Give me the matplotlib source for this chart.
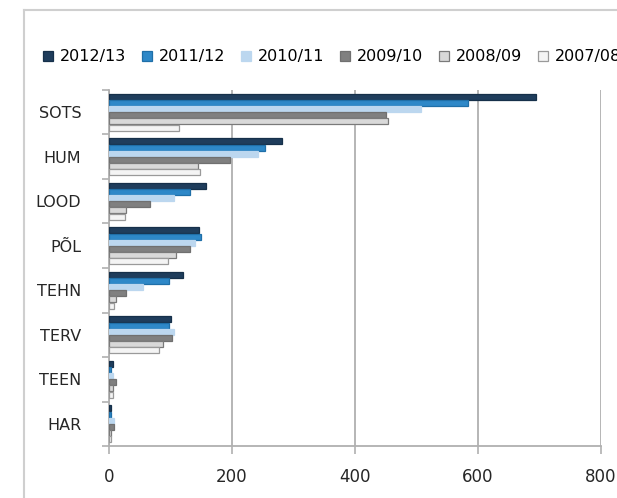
"""Horizontal grouped bar chart: counts per faculty, six academic years."""

from __future__ import annotations

import matplotlib

matplotlib.use("Agg")
import matplotlib.pyplot as plt
import numpy as np
from matplotlib.lines import Line2D

# categories, top to bottom
CATEGORIES = ["SOTS", "HUM", "LOOD", "PÕL", "TEHN", "TERV", "TEEN", "HAR"]
YEARS = ["2012/13", "2011/12", "2010/11", "2009/10", "2008/09", "2007/08"]

Y2012 = [695, 282, 158, 146, 121, 100, 7, 4]
Y2011 = [583, 254, 132, 150, 98, 98, 4, 4]
Y2010 = [508, 243, 105, 140, 56, 106, 6, 8]
Y2009 = [450, 196, 66, 131, 28, 103, 11, 8]
Y2008 = [454, 144, 27, 109, 12, 87, 7, 3]
Y2007 = [114, 148, 26, 96, 8, 82, 6, 3]

XTICKS = [0, 200, 400, 600, 800]

FILL = ["#1f3d5c", "#2e88c8", "#bcd7ef", "#808080", "#d9d9d9", "#f4f4f4"]
EDGE = ["#16304a", "#1f6fa8", "#bcd7ef", "#707070", "#7a7a7a", "#9a9a9a"]
GRID = "#b0b0b0"
FG = "#262626"
FRAME = "#cfcfcf"


def main() -> int:
    plt.rcParams["font.family"] = ["DejaVu Sans"]
    fig = plt.figure(figsize=(6.17, 4.98), dpi=100)
    fig.patch.set_facecolor("white")

    # outer chart frame (only left/top edges visible in the crop)
    fig.add_artist(Line2D([24 / 617, 24 / 617], [0, 1 - 10 / 498], color=FRAME, lw=1.5))
    fig.add_artist(Line2D([24 / 617, 1.01], [1 - 10 / 498, 1 - 10 / 498], color=FRAME, lw=1.5))

    ax = fig.add_axes([109 / 617, 1 - 446 / 498, (601 - 109) / 617, (446 - 90) / 498])

    series = [Y2012, Y2011, Y2010, Y2009, Y2008, Y2007]
    n = len(series)
    bar_h = 0.138
    base = np.arange(len(CATEGORIES))
    handles = []
    for i, vals in enumerate(series):
        offs = (i - (n - 1) / 2) * bar_h
        b = ax.barh(base + offs, vals, height=bar_h * 0.97, color=FILL[i],
                    edgecolor=EDGE[i], linewidth=0.9, zorder=3, label=YEARS[i])
        handles.append(b)

    ax.set_xlim(0, 800)
    ax.set_ylim(len(CATEGORIES) - 0.5, -0.5)
    ax.set_xticks(XTICKS)
    ax.set_xticklabels([str(t) for t in XTICKS], fontsize=12, color=FG)
    ax.set_yticks(base)
    ax.set_yticklabels(CATEGORIES, fontsize=11.5, color=FG)
    ax.set_yticks(np.arange(len(CATEGORIES) + 1) - 0.5, minor=True)
    ax.tick_params(axis="y", which="major", length=0, pad=20)
    ax.tick_params(axis="y", which="minor", length=5, color=GRID, width=1.2)
    ax.tick_params(axis="x", length=6, color=GRID, width=1.2, pad=10)

    ax.grid(axis="x", color=GRID, lw=1.3, zorder=0)
    for side in ("top", "right"):
        ax.spines[side].set_visible(False)
    for side in ("left", "bottom"):
        ax.spines[side].set_color(GRID)
        ax.spines[side].set_linewidth(1.3)

    fig.legend(handles=handles, loc="center left", bbox_to_anchor=(43 / 617, 1 - 57 / 498),
               ncol=6, frameon=False, fontsize=11.5, handlelength=0.6, handleheight=0.6,
               handletextpad=0.45, columnspacing=1.0, borderaxespad=0, borderpad=0)

    fig.savefig("out.png", dpi=100, facecolor="white")
    plt.close(fig)
    return 0


if __name__ == "__main__":
    raise SystemExit(main())
